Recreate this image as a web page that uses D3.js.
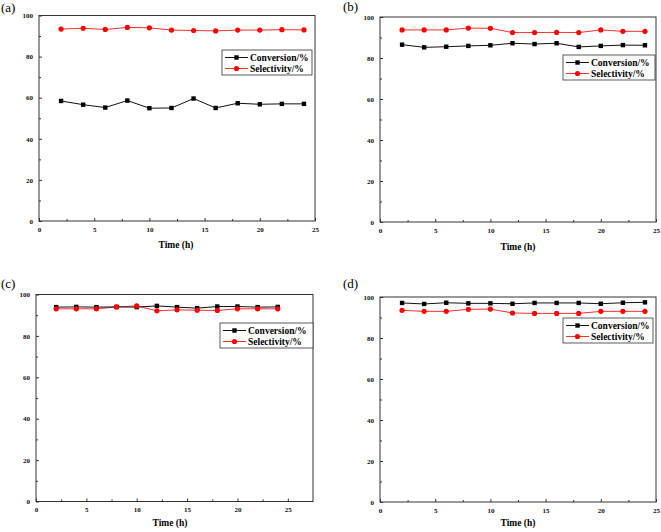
<!DOCTYPE html>
<html><head><meta charset="utf-8">
<script src="https://cdn.jsdelivr.net/npm/d3@7"></script>
<style>body{margin:0;background:#fff}svg{display:block}text{font-family:"Liberation Serif","DejaVu Serif",serif}</style>
</head><body>
<svg id="c" width="661" height="532"></svg>
<script>
const times = [2,4,6,8,10,12,14,16,18,20,22,24];
const convA = [58.4,56.6,55.2,58.6,54.9,55.0,59.6,55.0,57.3,56.8,57.0,57.0];
const selA  = [93.4,93.8,93.2,94.2,94.0,92.9,92.7,92.5,92.9,92.9,93.1,93.0];
const convB = [86.5,85.2,85.5,85.9,86.2,87.2,86.8,87.2,85.4,85.9,86.3,86.2];
const selB  = [93.7,93.7,93.7,94.6,94.5,92.4,92.4,92.5,92.4,93.7,93.0,93.0];
const convC = [93.9,94.0,93.9,94.0,93.9,94.5,93.9,93.4,94.2,94.2,93.9,94.0];
const selC  = [93.1,93.1,93.1,94.0,94.5,92.1,92.6,92.4,92.3,93.1,93.1,93.1];
const convD = [97.1,96.6,97.2,96.9,96.9,96.7,97.1,97.1,97.1,96.7,97.2,97.4];
const selD  = [93.5,93.0,93.0,94.0,94.1,92.2,92.0,92.0,92.0,93.0,93.0,93.0];
const seriesNames = ["Conversion/%","Selectivity/%"];
const panelLabels = ["(a)","(b)","(c)","(d)"];
const xTicks = [0,5,10,15,20,25];
const yTicks = [0,20,40,60,80,100];
const xLabel = "Time (h)";

const panels = [
  {label:panelLabels[0], conv:convA, sel:selA, L:39, R:315, T:15.5, B:221, xMax:25, lab:[1,12], tx:176, ty:248, leg:[222,50,312,75]},
  {label:panelLabels[1], conv:convB, sel:selB, L:380, R:656, T:17, B:222, xMax:25, lab:[343,11], tx:518, ty:250, leg:[563,55,655,80]},
  {label:panelLabels[2], conv:convC, sel:selC, L:36, R:313, T:294.5, B:501.5, xMax:27.5, lab:[1,288], tx:170, ty:526, leg:[220,323,313,348]},
  {label:panelLabels[3], conv:convD, sel:selD, L:380, R:656, T:297, B:502, xMax:25, lab:[343,288], tx:518, ty:526, leg:[563,318,653,343]},
];
const svg = d3.select("#c");
const serif = '"Liberation Serif","DejaVu Serif",serif';

panels.forEach(p=>{
  const g = svg.append("g");
  const x = d3.scaleLinear().domain([0,p.xMax]).range([p.L,p.R]);
  const y = d3.scaleLinear().domain([0,100]).range([p.B,p.T]);
  g.append("rect").attr("x",p.L).attr("y",p.T).attr("width",p.R-p.L).attr("height",p.B-p.T)
    .attr("fill","none").attr("stroke","#333").attr("stroke-width",1);
  const xa = g.append("g").attr("transform",`translate(0,${p.B})`)
    .call(d3.axisBottom(x).tickValues(xTicks).tickSizeInner(-3).tickSizeOuter(0).tickPadding(6));
  xa.select(".domain").remove();
  g.append("g").attr("transform",`translate(0,${p.B})`)
    .call(d3.axisBottom(x).tickValues(d3.range(2.5, p.xMax, 5)).tickSizeInner(-2).tickSizeOuter(0).tickFormat(""))
    .select(".domain").remove();
  const ya = g.append("g").attr("transform",`translate(${p.L},0)`)
    .call(d3.axisLeft(y).tickValues(yTicks).tickSizeInner(-3).tickSizeOuter(0).tickPadding(6));
  ya.select(".domain").remove();
  g.append("g").attr("transform",`translate(${p.L},0)`)
    .call(d3.axisLeft(y).tickValues(d3.range(10,100,20)).tickSizeInner(-2).tickSizeOuter(0).tickFormat(""))
    .select(".domain").remove();
  g.selectAll(".tick line").attr("stroke","#333");
  g.selectAll(".tick text").style("font-family",serif).attr("font-weight","bold").attr("font-size","7px").attr("fill","#111");
  g.append("text").attr("x",p.tx).attr("y",p.ty).attr("text-anchor","middle")
    .style("font-family",serif).attr("font-weight","bold").attr("font-size","9.5px").text(xLabel);
  g.append("text").attr("x",p.lab[0]).attr("y",p.lab[1]).style("font-family",serif).attr("font-size","13px").text(p.label);
  const line = d3.line().x((d,i)=>x(times[i])).y(d=>y(d));
  g.append("path").datum(p.sel).attr("d",line).attr("fill","none").attr("stroke","#ff3030").attr("stroke-width",1);
  g.append("path").datum(p.conv).attr("d",line).attr("fill","none").attr("stroke","#111").attr("stroke-width",1);
  const sq = 4.4;
  g.selectAll(null).data(p.conv).enter().append("rect")
    .attr("x",(d,i)=>x(times[i])-sq/2).attr("y",d=>y(d)-sq/2).attr("width",sq).attr("height",sq).attr("fill","#000");
  g.selectAll(null).data(p.sel).enter().append("circle")
    .attr("cx",(d,i)=>x(times[i])).attr("cy",d=>y(d)).attr("r",2.6).attr("fill","#ff0000");
  const [lx0,ly0,lx1,ly1] = p.leg;
  g.append("rect").attr("x",lx0).attr("y",ly0).attr("width",lx1-lx0).attr("height",ly1-ly0)
    .attr("fill","#fff").attr("stroke","#333").attr("stroke-width",0.8);
  const rowY = [ly0+(ly1-ly0)*0.3, ly0+(ly1-ly0)*0.74];
  const colors = ["#111","#ff3030"];
  seriesNames.forEach((n,k)=>{
    g.append("line").attr("x1",lx0+3).attr("x2",lx0+26).attr("y1",rowY[k]).attr("y2",rowY[k]).attr("stroke",colors[k]).attr("stroke-width",1);
    if(k===0) g.append("rect").attr("x",lx0+14.5-sq/2).attr("y",rowY[k]-sq/2).attr("width",sq).attr("height",sq).attr("fill","#000");
    else g.append("circle").attr("cx",lx0+14.5).attr("cy",rowY[k]).attr("r",2.6).attr("fill","#ff0000");
    g.append("text").attr("x",lx0+28).attr("y",rowY[k]+3.3).style("font-family",serif).attr("font-weight","bold")
      .attr("font-size","9.5px").text(n);
  });
});
</script>
</body></html>
